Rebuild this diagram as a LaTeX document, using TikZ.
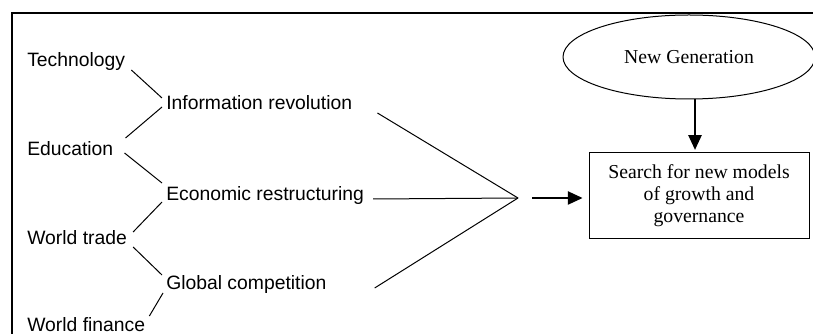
\documentclass[tikz,border=0pt]{standalone}
\usepackage{fontspec}
\setmainfont{Liberation Serif}
\newfontfamily\arialfont{Liberation Sans}
\usetikzlibrary{positioning,
        shapes.geometric,
        arrows.meta}

\begin{document}
\begin{tikzpicture}[x=0.75pt,y=-0.75pt,
        factor/.style={anchor=base west,inner sep=1.5pt,font=\arialfont\fontsize{14.5}{17}\selectfont},
        serif/.style={font=\fontsize{14.8}{16.5}\selectfont},
        link/.style={line width=0.75pt},
        tip/.style={-{Triangle[length=11pt,width=10pt]},line width=0.9pt}]
        \useasboundingbox (0,0) rectangle (813,334);
        \draw [line width=1.9pt] (12,334) -- (12,13) -- (813,13);

        \node [factor] (tech) at (25,66.5) {Technology};
        \node [factor] (edu) at (25,155.5) {Education};
        \node [factor] (trade) at (25,245) {World trade};
        \node [factor] (finance) at (25,331) {World finance};
        \node [factor] (info) at (164,110) {Information revolution};
        \node [factor] (econ) at (164,201) {Economic restructuring};
        \node [factor] (global) at (164,290) {Global competition};
        \coordinate (join) at (518,198);

        \node [serif,draw,line width=0.75pt,minimum width=165pt,minimum height=64.5pt,align=center] (search) at (699,196) {Search for new models\\of growth and\\governance};
        \node [serif,ellipse,draw,line width=0.75pt,minimum width=189pt,minimum height=63pt,inner sep=0pt] (gen) at (689,57) {New Generation};

        \draw [link] ([shift={(4,3.5)}]tech.base east) -- ([shift={(-2,-12)}]info.base west);
        \draw [link] ([shift={(-2,-3)}]info.base west) -- ([shift={(10,-17.5)}]edu.base east);
        \draw [link] ([shift={(9,-2.5)}]edu.base east) -- ([shift={(-2,-18)}]econ.base west);
        \draw [link] ([shift={(-2,1)}]econ.base west) -- ([shift={(4,-13)}]trade.base east);
        \draw [link] ([shift={(4,2)}]trade.base east) -- ([shift={(-2,-15)}]global.base west);
        \draw [link] ([shift={(-1,3)}]global.base west) -- ([shift={(2,-15)}]finance.base east);

        \draw [link] ([shift={(23,3)}]info.base east) -- (join);
        \draw [link] ([shift={(7,-2)}]econ.base east) -- (join);
        \draw [link] ([shift={(46,-2)}]global.base east) -- (join);

        \draw [tip,shorten >=4.5pt] ([shift={(14,0)}]join) -- (search.west |- join);
        \draw [tip,shorten >=2pt] ([xshift=4.5pt]gen.south) -- ([xshift=-3pt]search.north);
\end{tikzpicture}
\end{document}
